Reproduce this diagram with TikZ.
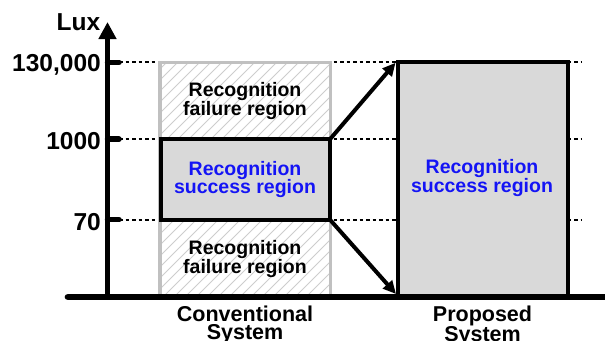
\documentclass[tikz,border=0pt]{standalone}
\usepackage{fontspec}
\setmainfont{Liberation Sans}
\usetikzlibrary{arrows.meta}
\definecolor{txtblue}{RGB}{20,20,245}
\definecolor{boxgray}{RGB}{217,217,217}
\definecolor{colgray}{RGB}{192,192,192}
\definecolor{hatchgray}{RGB}{205,205,205}
\begin{document}
\begin{tikzpicture}[x=1pt,y=-1pt,
  axisline/.style={line width=5pt},
  tickline/.style={line width=5.5pt,line cap=round},
  guide/.style={line width=1.8pt,dash pattern=on 3.5pt off 3pt},
  hatchline/.style={line width=0.8pt,draw=hatchgray},
  colbox/.style={draw=colgray,line width=3.5pt},
  okbox/.style={draw=black,line width=4pt,fill=boxgray},
  mapArrow/.style={line width=4pt,-{Triangle[length=13pt,width=12pt]}},
  axlabel/.style={font=\bfseries\fontsize{24.5}{26}\selectfont,inner sep=0pt,anchor=base east},
  regtext/.style={font=\bfseries\fontsize{19.5}{18.5}\selectfont,align=center,inner sep=0pt},
  systext/.style={font=\bfseries\fontsize{21.5}{18}\selectfont,align=center,inner sep=0pt,anchor=north}
]
\path[use as bounding box] (0,0) rectangle (605,340);

% coordinates
\coordinate (yb) at (107.5,297);
\coordinate (yt) at (107.5,22);
\coordinate (xl) at (68,297);
\coordinate (xr) at (615,297);
\coordinate (t1) at (107.5,62.3);
\coordinate (t2) at (107.5,139.2);
\coordinate (t3) at (107.5,219.7);
\coordinate (t1e) at (119,62.3);
\coordinate (t2e) at (119,139.2);
\coordinate (t3e) at (119,219.7);
\coordinate (g1) at (582,62.3);
\coordinate (g2) at (582,139.2);
\coordinate (g3) at (582,219.7);
\coordinate (cTL) at (160,62.3);
\coordinate (cBR) at (330.5,297);
\coordinate (sTL) at (160.5,139.2);
\coordinate (sTR) at (330,139.2);
\coordinate (sBL) at (160.5,219.7);
\coordinate (sBR) at (330,219.7);
\coordinate (pTL) at (397.5,62.3);
\coordinate (pTR) at (567.5,62.3);
\coordinate (pBL) at (397.5,297);
\coordinate (pBR) at (567.5,297);
\coordinate (aTop) at (395.5,62.8);
\coordinate (aBot) at (396,294);

% dashed guides
\draw[guide] (t1e) -- (g1);
\draw[guide] (t2e) -- (g2);
\draw[guide] (t3e) -- (g3);

% conventional column with hatching
\fill[white] (cTL) rectangle (cBR);
\begin{scope}
  \clip (cTL) rectangle (cBR);
  \foreach \i in {-24,...,17} {
    \draw[hatchline] (160+\i*11,300) -- ++(250,-250);
  }
\end{scope}
\draw[colbox] (cTL) rectangle (cBR);

% success box (conventional)
\draw[okbox] (sTL) rectangle (sBR);

% proposed box
\draw[okbox] (pBL) -- (pTL) -- (pTR) -- (pBR);
\fill[boxgray] ([xshift=2pt,yshift=-2pt]pTL) rectangle ([xshift=-2pt]pBR);

% mapping arrows
\draw[mapArrow] (sTR) -- (aTop);
\draw[mapArrow] (sBR) -- (aBot);

% axes
\draw[axisline,-{Triangle[length=17pt,width=17pt]}] (yb) -- (yt);
\draw[line width=6.7pt,line cap=round] (xl) -- (xr);
\draw[tickline] (t1) -- (t1e);
\draw[tickline] (t2) -- (t2e);
\draw[tickline] (t3) -- (t3e);

% axis labels
\node[axlabel] (lux) at (100.5,30.7) {Lux};
\node[axlabel] (l130) at (101,71.7) {130,000};
\node[axlabel] (l1000) at (101,149.3) {1000};
\node[axlabel] (l70) at (101,230) {70};

% region texts
\node[regtext] (fail1) at (245,100.8) {Recognition\\failure region};
\node[regtext,text=txtblue] (succ1) at (245,179.5) {Recognition\\success region};
\node[regtext] (fail2) at (245,258.8) {Recognition\\failure region};
\node[regtext,text=txtblue] (succ2) at (482,178) {Recognition\\success region};

% system labels
\node[systext] (conv) at (245,305.5) {Conventional\\System};
\node[systext] (prop) at (482.5,305.5) {Proposed\\System};
\end{tikzpicture}
\end{document}
